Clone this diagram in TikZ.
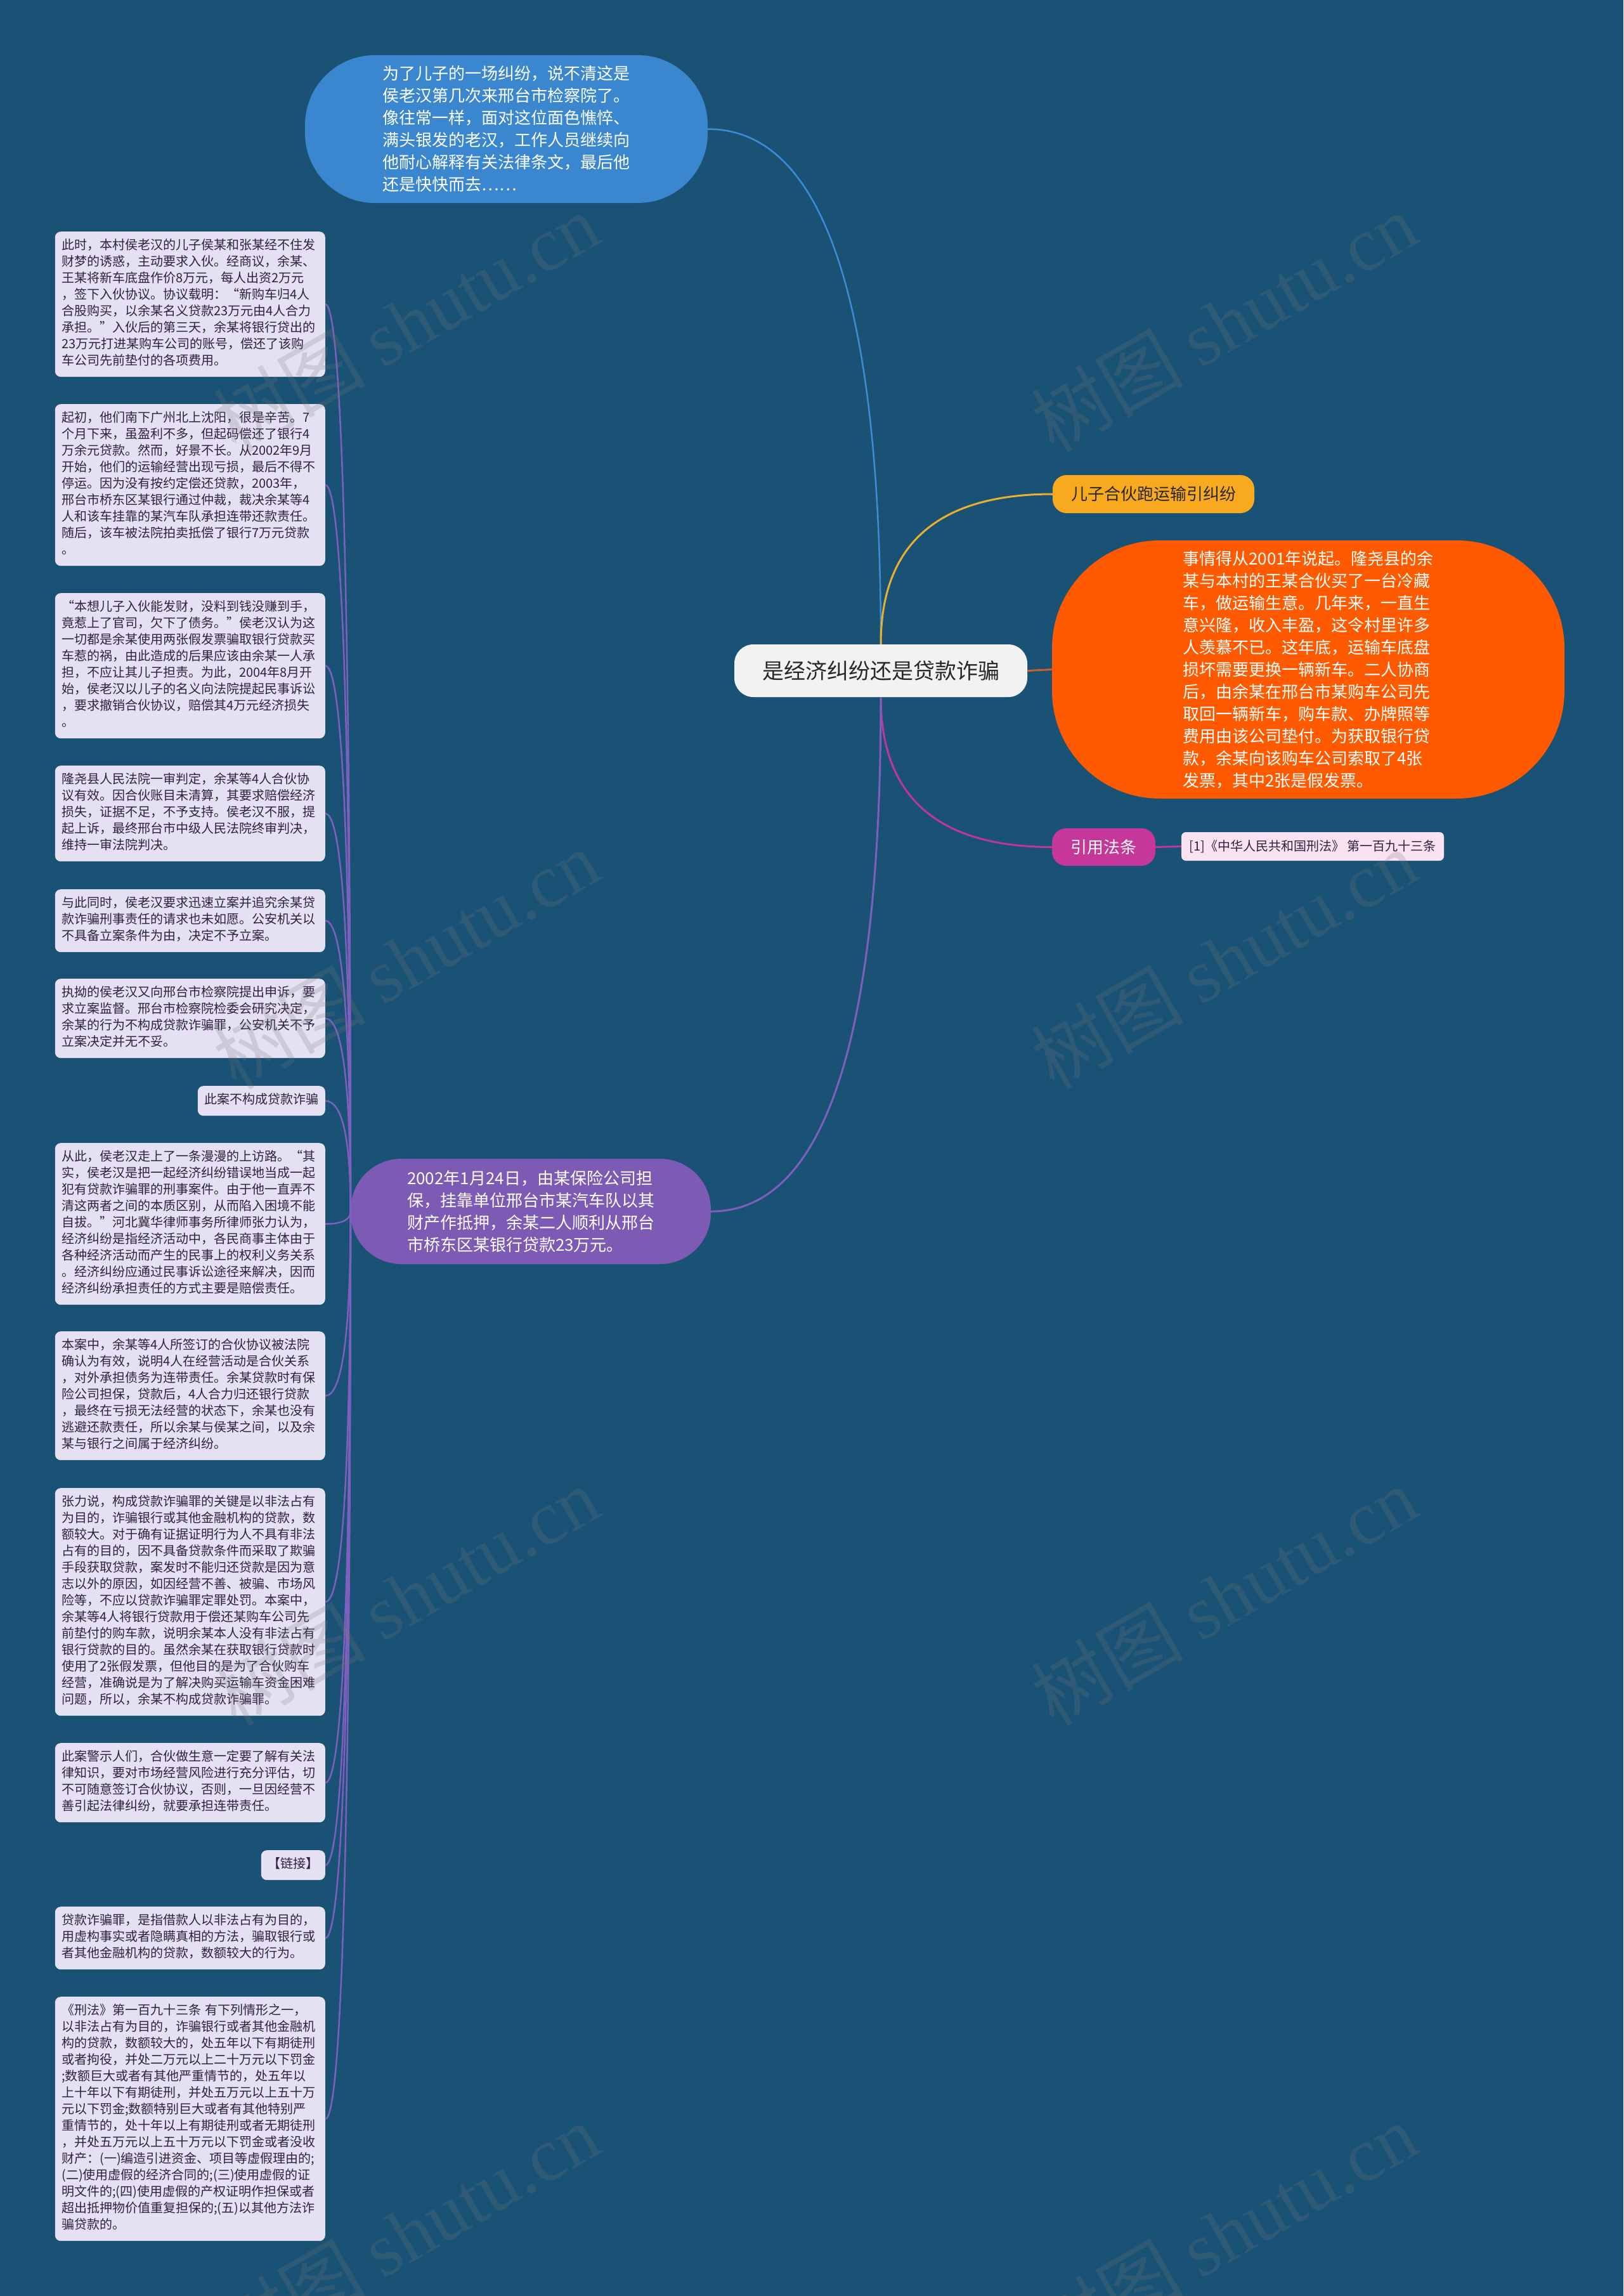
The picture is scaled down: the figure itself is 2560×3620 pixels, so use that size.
\documentclass[tikz,border=0pt]{standalone}
\usepackage{fontspec}
\setmainfont{Noto Sans CJK SC}
\newfontfamily\markfont{Liberation Serif}
\usepackage{tikz}
\usepackage{xcolor}
\definecolor{mapbg}{RGB}{26, 82, 117}
\definecolor{mapblue}{RGB}{58, 135, 207}
\definecolor{mapyellow}{RGB}{248, 169, 30}
\definecolor{maporange}{RGB}{255, 90, 0}
\definecolor{mappink}{RGB}{197, 55, 152}
\definecolor{mappurple}{RGB}{125, 90, 180}
\definecolor{rootbg}{RGB}{242, 242, 242}
\definecolor{roottext}{RGB}{40, 40, 40}
\definecolor{citebg}{RGB}{250, 226, 240}
\definecolor{leafbg}{RGB}{229, 225, 242}
\definecolor{leaftext}{RGB}{45, 35, 65}
\definecolor{linkblue}{RGB}{60, 140, 215}
\definecolor{linkyellow}{RGB}{235, 175, 50}
\definecolor{linkorange}{RGB}{205, 95, 45}
\definecolor{linkpink}{RGB}{190, 55, 150}
\definecolor{linkpurple}{RGB}{125, 95, 190}
\definecolor{markgray}{RGB}{120, 120, 120}
\usetikzlibrary{calc}

\begin{document}
\begin{tikzpicture}[x=1pt, y=-1pt,
    rootnode/.style={fill=rootbg, text=roottext, rounded corners=30pt, minimum width=462pt, minimum height=83pt, inner sep=0pt, font=\fontsize{34}{40}\selectfont},
    bubble/.style={text=white, rounded corners=#1, inner sep=0pt, align=left, font=\fontsize{26}{35}\selectfont},
    tagnode/.style={rounded corners=22pt, inner sep=0pt, font=\fontsize{26}{30}\selectfont},
    leafbox/.style={fill=leafbg, text=leaftext, rounded corners=9pt, inner sep=10.5pt, font=\fontsize{20}{26}\selectfont, execute at begin node=\strut},
    leafwide/.style={leafbox, text width=405pt, align=left, execute at end node=\strut},
    branch/.style={to path={.. controls ($(\tikztostart)!0.667!(\tikztostart |- \tikztotarget)$) and ($(\tikztotarget)!0.667!(\tikztostart |- \tikztotarget)$) .. (\tikztotarget)}},
    markstyle/.style={text=markgray, text opacity=0.22, rotate=30, font=\fontsize{120}{120}\selectfont}]
    % Background
    \fill[mapbg] (0, 0) rectangle (2560, 3620);
    \useasboundingbox (0, 0) rectangle (2560, 3620);

    % Central topic
    \node[rootnode] (root) at (1389, 1057.5) {是经济纠纷还是贷款诈骗};

    % Right side
    \node[bubble=110pt, fill=mapblue, minimum width=635pt, minimum height=233pt] (visit) at (798.5, 203.5)
        {为了儿子的一场纠纷，说不清这是\\侯老汉第几次来邢台市检察院了。\\像往常一样，面对这位面色憔悴、\\满头银发的老汉，工作人员继续向\\他耐心解释有关法律条文，最后他\\还是快快而去……};
    \node[tagnode, fill=mapyellow, text=roottext, minimum width=318pt, minimum height=60pt] (dispute) at (1819, 779) {儿子合伙跑运输引纠纷};
    \node[bubble=170pt, fill=maporange, minimum width=808pt, minimum height=407pt] (origin) at (2063, 1055.5)
        {事情得从2001年说起。隆尧县的余\\某与本村的王某合伙买了一台冷藏\\车，做运输生意。几年来，一直生\\意兴隆，收入丰盈，这令村里许多\\人羡慕不已。这年底，运输车底盘\\损坏需要更换一辆新车。二人协商\\后，由余某在邢台市某购车公司先\\取回一辆新车，购车款、办牌照等\\费用由该公司垫付。为获取银行贷\\款，余某向该购车公司索取了4张\\发票，其中2张是假发票。};
    \node[tagnode, fill=mappink, text=white, minimum width=163pt, minimum height=59pt] (lawref) at (1740.5, 1335.5) {引用法条};
    \node[fill=citebg, text=leaftext, rounded corners=7pt, minimum width=414pt, minimum height=45pt, inner sep=0pt, font=\fontsize{20}{24}\selectfont] (cite) at (2070, 1334.5)
        {[1]《中华人民共和国刑法》 第一百九十三条};
    \node[bubble=80pt, fill=mappurple, minimum width=568pt, minimum height=166pt] (loan) at (837, 1910)
        {2002年1月24日，由某保险公司担\\保，挂靠单位邢台市某汽车队以其\\财产作抵押，余某二人顺利从邢台\\市桥东区某银行贷款23万元。};

    % Left column
    \node[leafwide, anchor=north east] (b1) at (513, 365)
        {此时，本村侯老汉的儿子侯某和张某经不住发\\财梦的诱惑，主动要求入伙。经商议，余某、\\王某将新车底盘作价8万元，每人出资2万元\\，签下入伙协议。协议载明：“新购车归4人\\合股购买，以余某名义贷款23万元由4人合力\\承担。”入伙后的第三天，余某将银行贷出的\\23万元打进某购车公司的账号，偿还了该购\\车公司先前垫付的各项费用。};
    \node[leafwide, anchor=north east] (b2) at (513, 637)
        {起初，他们南下广州北上沈阳，很是辛苦。7\\个月下来，虽盈利不多，但起码偿还了银行4\\万余元贷款。然而，好景不长。从2002年9月\\开始，他们的运输经营出现亏损，最后不得不\\停运。因为没有按约定偿还贷款，2003年，\\邢台市桥东区某银行通过仲裁，裁决余某等4\\人和该车挂靠的某汽车队承担连带还款责任。\\随后，该车被法院拍卖抵偿了银行7万元贷款\\。};
    \node[leafwide, anchor=north east] (b3) at (513, 935)
        {“本想儿子入伙能发财，没料到钱没赚到手，\\竟惹上了官司，欠下了债务。”侯老汉认为这\\一切都是余某使用两张假发票骗取银行贷款买\\车惹的祸，由此造成的后果应该由余某一人承\\担，不应让其儿子担责。为此，2004年8月开\\始，侯老汉以儿子的名义向法院提起民事诉讼\\，要求撤销合伙协议，赔偿其4万元经济损失\\。};
    \node[leafwide, anchor=north east] (b4) at (513, 1207)
        {隆尧县人民法院一审判定，余某等4人合伙协\\议有效。因合伙账目未清算，其要求赔偿经济\\损失，证据不足，不予支持。侯老汉不服，提\\起上诉，最终邢台市中级人民法院终审判决，\\维持一审法院判决。};
    \node[leafwide, anchor=north east] (b5) at (513, 1402)
        {与此同时，侯老汉要求迅速立案并追究余某贷\\款诈骗刑事责任的请求也未如愿。公安机关以\\不具备立案条件为由，决定不予立案。};
    \node[leafwide, anchor=north east] (b6) at (513, 1543)
        {执拗的侯老汉又向邢台市检察院提出申诉，要\\求立案监督。邢台市检察院检委会研究决定，\\余某的行为不构成贷款诈骗罪，公安机关不予\\立案决定并无不妥。};
    \node[leafbox, anchor=north east] (b7) at (513, 1712) {此案不构成贷款诈骗};
    \node[leafwide, anchor=north east] (b8) at (513, 1802)
        {从此，侯老汉走上了一条漫漫的上访路。“其\\实，侯老汉是把一起经济纠纷错误地当成一起\\犯有贷款诈骗罪的刑事案件。由于他一直弄不\\清这两者之间的本质区别，从而陷入困境不能\\自拔。”河北冀华律师事务所律师张力认为，\\经济纠纷是指经济活动中，各民商事主体由于\\各种经济活动而产生的民事上的权利义务关系\\。经济纠纷应通过民事诉讼途径来解决，因而\\经济纠纷承担责任的方式主要是赔偿责任。};
    \node[leafwide, anchor=north east] (b9) at (513, 2099)
        {本案中，余某等4人所签订的合伙协议被法院\\确认为有效，说明4人在经营活动是合伙关系\\，对外承担债务为连带责任。余某贷款时有保\\险公司担保，贷款后，4人合力归还银行贷款\\，最终在亏损无法经营的状态下，余某也没有\\逃避还款责任，所以余某与侯某之间，以及余\\某与银行之间属于经济纠纷。};
    \node[leafwide, anchor=north east] (b10) at (513, 2346)
        {张力说，构成贷款诈骗罪的关键是以非法占有\\为目的，诈骗银行或其他金融机构的贷款，数\\额较大。对于确有证据证明行为人不具有非法\\占有的目的，因不具备贷款条件而采取了欺骗\\手段获取贷款，案发时不能归还贷款是因为意\\志以外的原因，如因经营不善、被骗、市场风\\险等，不应以贷款诈骗罪定罪处罚。本案中，\\余某等4人将银行贷款用于偿还某购车公司先\\前垫付的购车款，说明余某本人没有非法占有\\银行贷款的目的。虽然余某在获取银行贷款时\\使用了2张假发票，但他目的是为了合伙购车\\经营，准确说是为了解决购买运输车资金困难\\问题，所以，余某不构成贷款诈骗罪。};
    \node[leafwide, anchor=north east] (b11) at (513, 2748)
        {此案警示人们，合伙做生意一定要了解有关法\\律知识，要对市场经营风险进行充分评估，切\\不可随意签订合伙协议，否则，一旦因经营不\\善引起法律纠纷，就要承担连带责任。};
    \node[leafbox, anchor=north east] (b12) at (513, 2917) {【链接】};
    \node[leafwide, anchor=north east] (b13) at (513, 3006)
        {贷款诈骗罪，是指借款人以非法占有为目的，\\用虚构事实或者隐瞒真相的方法，骗取银行或\\者其他金融机构的贷款，数额较大的行为。};
    \node[leafwide, anchor=north east] (b14) at (513, 3148)
        {《刑法》第一百九十三条 有下列情形之一，\\以非法占有为目的，诈骗银行或者其他金融机\\构的贷款，数额较大的，处五年以下有期徒刑\\或者拘役，并处二万元以上二十万元以下罚金\\;数额巨大或者有其他严重情节的，处五年以\\上十年以下有期徒刑，并处五万元以上五十万\\元以下罚金;数额特别巨大或者有其他特别严\\重情节的，处十年以上有期徒刑或者无期徒刑\\，并处五万元以上五十万元以下罚金或者没收\\财产：(一)编造引进资金、项目等虚假理由的;\\(二)使用虚假的经济合同的;(三)使用虚假的证\\明文件的;(四)使用虚假的产权证明作担保或者\\超出抵押物价值重复担保的;(五)以其他方法诈\\骗贷款的。};

    % Connectors
    \draw[linkblue, line width=2.5pt, branch] (root.north) to (visit.east);
    \draw[linkyellow, line width=3pt, branch] (root.north) to (dispute.west);
    \draw[linkorange, line width=3pt] (root.east) -- (origin.west);
    \draw[linkpink, line width=3pt, branch] (root.south) to (lawref.west);
    \draw[linkpink, line width=3pt] (lawref.east) -- (cite.west);
    \draw[linkpurple, line width=3pt, branch] (root.south) to (loan.east);
    \draw[linkpurple, line width=2.5pt, branch] (loan.west) to (b1.east);
    \draw[linkpurple, line width=2.5pt, branch] (loan.west) to (b2.east);
    \draw[linkpurple, line width=2.5pt, branch] (loan.west) to (b3.east);
    \draw[linkpurple, line width=2.5pt, branch] (loan.west) to (b4.east);
    \draw[linkpurple, line width=2.5pt, branch] (loan.west) to (b5.east);
    \draw[linkpurple, line width=2.5pt, branch] (loan.west) to (b6.east);
    \draw[linkpurple, line width=2.5pt, branch] (loan.west) to (b7.east);
    \draw[linkpurple, line width=2.5pt, branch] (loan.west) to (b8.east);
    \draw[linkpurple, line width=2.5pt, branch] (loan.west) to (b9.east);
    \draw[linkpurple, line width=2.5pt, branch] (loan.west) to (b10.east);
    \draw[linkpurple, line width=2.5pt, branch] (loan.west) to (b11.east);
    \draw[linkpurple, line width=2.5pt, branch] (loan.west) to (b12.east);
    \draw[linkpurple, line width=2.5pt, branch] (loan.west) to (b13.east);
    \draw[linkpurple, line width=2.5pt, branch] (loan.west) to (b14.east);

    % Watermarks
    \node[markstyle] (wm1) at (640, 508) {树图 {\markfont shutu.cn}};
    \node[markstyle] (wm2) at (1930, 508) {树图 {\markfont shutu.cn}};
    \node[markstyle] (wm3) at (640, 1512) {树图 {\markfont shutu.cn}};
    \node[markstyle] (wm4) at (1930, 1512) {树图 {\markfont shutu.cn}};
    \node[markstyle] (wm5) at (640, 2516) {树图 {\markfont shutu.cn}};
    \node[markstyle] (wm6) at (1930, 2516) {树图 {\markfont shutu.cn}};
    \node[markstyle] (wm7) at (640, 3520) {树图 {\markfont shutu.cn}};
    \node[markstyle] (wm8) at (1930, 3520) {树图 {\markfont shutu.cn}};
\end{tikzpicture}
\end{document}
